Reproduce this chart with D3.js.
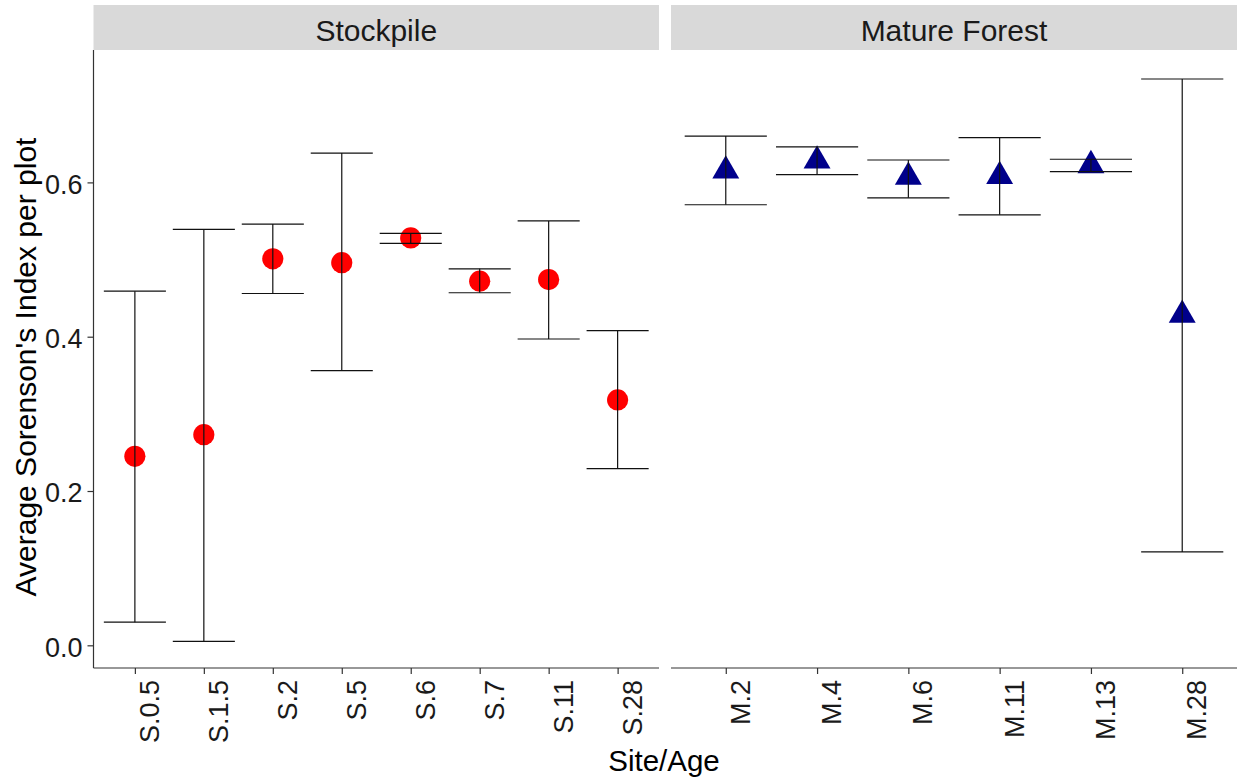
<!DOCTYPE html>
<html>
<head>
<meta charset="utf-8">
<script src="https://cdn.jsdelivr.net/npm/d3@7"></script>
<style>
  html, body { margin: 0; padding: 0; background: #ffffff; }
  svg { display: block; font-family: "Liberation Sans", Arial, sans-serif; }
</style>
</head>
<body>
<svg id="chart" width="1238" height="782"></svg>
<script>
// ---- data ----
const stockSites = ["S.0.5", "S.1.5", "S.2", "S.5", "S.6", "S.7", "S.11", "S.28"];
const stockMean  = [0.245, 0.273, 0.501, 0.496, 0.528, 0.472, 0.474, 0.318];
const stockLow   = [0.030, 0.005, 0.456, 0.356, 0.521, 0.457, 0.397, 0.229];
const stockHigh  = [0.459, 0.539, 0.546, 0.638, 0.534, 0.488, 0.550, 0.408];

const forestSites = ["M.2", "M.4", "M.6", "M.11", "M.13", "M.28"];
const forestMean  = [0.615, 0.628, 0.607, 0.608, 0.622, 0.428];
const forestLow   = [0.571, 0.610, 0.580, 0.558, 0.614, 0.121];
const forestHigh  = [0.660, 0.646, 0.629, 0.658, 0.630, 0.734];

const yTicks = [0.0, 0.2, 0.4, 0.6];
const panelTitles = ["Stockpile", "Mature Forest"];
const xTitle = "Site/Age";
const yTitle = "Average Sorenson's Index per plot";

// ---- layout ----
const svg = d3.select("#chart");
const panelTop = 50, panelBottom = 668;
const panels = [
  { x0: 93.5, x1: 659, sites: stockSites, mean: stockMean, low: stockLow, high: stockHigh, shape: "circle", color: "#ff0000", title: panelTitles[0], yAxis: true },
  { x0: 671, x1: 1237, sites: forestSites, mean: forestMean, low: forestLow, high: forestHigh, shape: "triangle", color: "#00008b", title: panelTitles[1], yAxis: false }
];

const y = d3.scaleLinear().domain([-0.0294, 0.7716]).range([panelBottom, panelTop]);
const axisColor = "#333333";

panels.forEach(p => {
  const x = d3.scalePoint().domain(p.sites).range([p.x0, p.x1]).padding(0.6);
  const step = x.step();
  const g = svg.append("g");

  // strip
  g.append("rect").attr("x", p.x0).attr("y", 5).attr("width", p.x1 - p.x0).attr("height", panelTop - 5)
    .attr("fill", "#d9d9d9");
  g.append("text").attr("x", (p.x0 + p.x1) / 2).attr("y", 41)
    .attr("text-anchor", "middle").attr("font-size", 30).attr("fill", "#1a1a1a").text(p.title);

  const rows = p.sites.map((s, i) => ({ site: s, mean: p.mean[i], low: p.low[i], high: p.high[i] }));

  // points
  if (p.shape === "circle") {
    g.selectAll("circle.pt").data(rows).join("circle").attr("class", "pt")
      .attr("cx", d => x(d.site)).attr("cy", d => y(d.mean)).attr("r", 10.6).attr("fill", p.color);
  } else {
    const tri = d3.symbol().type(d3.symbolTriangle).size(314);
    g.selectAll("path.pt").data(rows).join("path").attr("class", "pt")
      .attr("transform", d => `translate(${x(d.site)},${y(d.mean)})`).attr("d", tri()).attr("fill", p.color);
  }

  // error bars
  const eb = g.selectAll("g.eb").data(rows).join("g").attr("class", "eb")
    .attr("stroke", "#111111").attr("stroke-width", 1.2).attr("fill", "none");
  eb.append("line").attr("x1", d => x(d.site)).attr("x2", d => x(d.site))
    .attr("y1", d => y(d.low)).attr("y2", d => y(d.high));
  eb.append("line").attr("x1", d => x(d.site) - 0.45 * step).attr("x2", d => x(d.site) + 0.45 * step)
    .attr("y1", d => y(d.low)).attr("y2", d => y(d.low));
  eb.append("line").attr("x1", d => x(d.site) - 0.45 * step).attr("x2", d => x(d.site) + 0.45 * step)
    .attr("y1", d => y(d.high)).attr("y2", d => y(d.high));

  // x axis
  const xa = g.append("g").attr("transform", `translate(0,${panelBottom})`)
    .call(d3.axisBottom(x).tickSizeOuter(0).tickSizeInner(6).tickPadding(0));
  xa.select(".domain").attr("stroke", axisColor).attr("stroke-width", 1.2)
    .attr("d", `M${p.x0},0H${p.x1}`);
  xa.selectAll(".tick line").attr("stroke", axisColor).attr("stroke-width", 1.2);
  xa.selectAll(".tick text")
    .attr("font-size", 27).attr("fill", "#1a1a1a")
    .attr("text-anchor", "end")
    .attr("transform", "translate(23.5,12) rotate(-90)")
    .attr("x", 0).attr("y", 0).attr("dy", null);

  // y axis
  if (p.yAxis) {
    const ya = g.append("g").attr("transform", `translate(${p.x0},0)`)
      .call(d3.axisLeft(y).tickValues(yTicks).tickFormat(d3.format(".1f")).tickSizeOuter(0).tickSizeInner(6).tickPadding(5));
    ya.select(".domain").attr("stroke", axisColor).attr("stroke-width", 1.2)
      .attr("d", `M0,${panelTop}V${panelBottom}`);
    ya.selectAll(".tick line").attr("stroke", axisColor).attr("stroke-width", 1.2);
    ya.selectAll(".tick text").attr("font-size", 27).attr("fill", "#1a1a1a").attr("dy", "0.4em");
  }
});

// axis titles
svg.append("text").attr("x", 664).attr("y", 771).attr("text-anchor", "middle")
  .attr("font-size", 29.5).attr("fill", "#000").text(xTitle);
svg.append("text").attr("transform", `translate(36,367) rotate(-90)`)
  .attr("text-anchor", "middle").attr("font-size", 30).attr("fill", "#000").text(yTitle);
</script>
</body>
</html>
